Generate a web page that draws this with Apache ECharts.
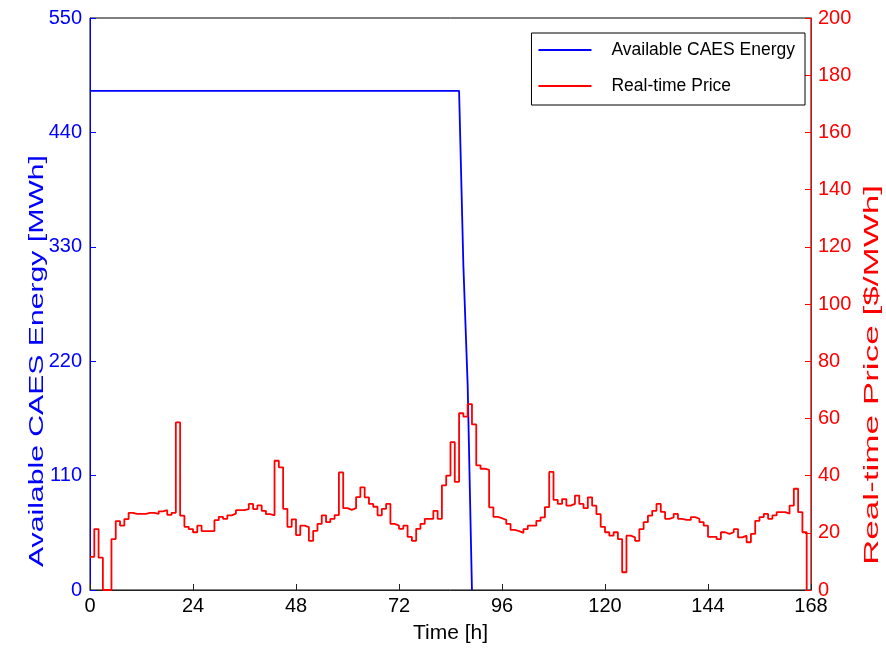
<!DOCTYPE html>
<html>
<head>
<meta charset="utf-8">
<script src="https://cdn.jsdelivr.net/npm/echarts@6/dist/echarts.min.js"></script>
<style>
html,body{margin:0;padding:0;background:#fff;}
#chart{width:886px;height:654px;}
</style>
</head>
<body>
<div id="chart"></div>
<script>
// Real-time price [$/MWh], hourly (stairs), hours 0..167
var priceValues = [
 11.6,21.3,11.3,0,0,17.8,24.1,22.5,24.8,27.0,26.6,26.6,26.6,27.0,27.0,26.6,27.5,27.9,26.3,27.0,
 58.6,26.0,22.1,21.3,20.2,22.5,20.6,20.6,20.6,24.4,25.6,24.9,26.1,26.7,27.9,27.9,28.3,30.1,28.3,29.6,
 27.7,26.5,26.1,45.2,42.9,28.4,22.1,24.7,19.2,22.5,22.0,17.2,20.7,23.1,26.1,23.7,24.9,26.2,41.1,28.6,
 28.0,28.6,32.5,35.9,32.4,30.1,29.1,26.1,28.4,30.1,23.1,22.5,21.4,22.5,18.6,17.2,21.4,23.1,24.9,24.9,
 27.7,24.9,36.6,40.0,51.7,37.8,61.8,60.6,65.0,57.9,43.6,42.4,42.0,28.9,25.6,25.1,24.5,23.1,21.0,20.6,
 20.0,21.3,22.5,22.5,24.2,25.4,29.0,41.3,31.5,30.1,31.8,29.5,30.1,33.0,30.1,28.6,32.4,29.5,26.5,22.1,
 20.2,19.0,20.2,17.8,6.2,19.0,18.4,17.2,21.3,23.7,26.0,27.7,30.1,27.3,24.9,25.4,26.6,24.9,24.5,24.5,
 25.5,24.9,23.7,22.5,18.6,18.6,17.8,20.2,19.6,20.2,21.3,18.4,19.0,16.7,19.6,24.2,25.5,26.6,24.9,26.1,
 27.2,27.2,26.7,29.5,35.4,27.2,20.2,0
];
// Available CAES energy [MWh]
var energyHours  = [0, 86, 87, 88, 89];
var energyValues = [480, 480, 312, 197, 0];

var leftTitle = 'Available CAES Energy [MWh]';
var rightTitle = 'Real-time Price [$/MWh]';
var xTitle = 'Time [h]';
var seriesNames = ['Available CAES Energy', 'Real-time Price'];

var priceData = priceValues.map(function (v, i) { return [i, v]; });
var energyData = energyHours.map(function (h, i) { return [h, energyValues[i]]; });

var FONT = '"Liberation Sans", Arial, sans-serif';
var TITLE_PX = 20;
function textWidth(t, px) {
  var c = document.createElement('canvas').getContext('2d');
  c.font = px + 'px ' + FONT;
  return c.measureText(t).width;
}
// vertical titles in the reference are elongated along their length
var leftScale = 412 / textWidth(leftTitle, TITLE_PX);
var rightScale = 380 / textWidth(rightTitle, TITLE_PX);

var chart = echarts.init(document.getElementById('chart'), null, {renderer: 'canvas'});
chart.setOption({
  animation: false,
  backgroundColor: '#fff',
  textStyle: {fontFamily: FONT},
  grid: {left: 90, right: 75, top: 18, bottom: 64, show: true, borderColor: '#000', borderWidth: 1, backgroundColor: 'transparent'},
  legend: {
    orient: 'vertical',
    right: 81, top: 33,
    backgroundColor: '#fff',
    borderColor: '#000', borderWidth: 1,
    padding: [8, 10, 10, 7],
    itemWidth: 53, itemHeight: 2, itemGap: 18,
    icon: 'rect',
    textStyle: {fontFamily: FONT, fontSize: 17.5, color: '#000', padding: [0, 0, 0, 15]},
    data: seriesNames
  },
  graphic: [{
    type: 'text', x: 37, y: 361, rotation: Math.PI / 2, scaleX: leftScale, scaleY: 1,
    style: {text: leftTitle, font: TITLE_PX + 'px ' + FONT, fill: '#0000ff', align: 'center', verticalAlign: 'middle'}
  }, {
    type: 'text', x: 872, y: 375, rotation: Math.PI / 2, scaleX: rightScale, scaleY: 1,
    style: {text: rightTitle, font: TITLE_PX + 'px ' + FONT, fill: '#ff0000', align: 'center', verticalAlign: 'middle'}
  }],
  xAxis: {
    type: 'value', min: 0, max: 168, interval: 24,
    name: xTitle, nameLocation: 'middle', nameGap: 33,
    nameTextStyle: {fontFamily: FONT, fontSize: 21, color: '#000'},
    axisLine: {lineStyle: {color: '#222', width: 1}},
    axisTick: {inside: true, length: 6, lineStyle: {color: '#222'}},
    axisLabel: {fontFamily: FONT, fontSize: 20, color: '#000', margin: 6},
    splitLine: {show: false}
  },
  yAxis: [{
    type: 'value', min: 0, max: 550, interval: 110, position: 'left',
    axisLine: {show: true, lineStyle: {color: '#0000ff', width: 1}},
    axisTick: {show: true, inside: true, length: 6, lineStyle: {color: '#0000ff'}},
    axisLabel: {fontFamily: FONT, fontSize: 20, color: '#0000ff', margin: 8},
    splitLine: {show: false}
  }, {
    type: 'value', min: 0, max: 200, interval: 20, position: 'right',
    axisLine: {show: true, lineStyle: {color: '#ff0000', width: 1}},
    axisTick: {show: true, inside: true, length: 6, lineStyle: {color: '#ff0000'}},
    axisLabel: {fontFamily: FONT, fontSize: 20, color: '#ff0000', margin: 7},
    splitLine: {show: false}
  }],
  series: [{
    name: seriesNames[0], type: 'line', yAxisIndex: 0,
    data: energyData, showSymbol: false, symbol: 'none',
    lineStyle: {color: '#0000ff', width: 1.8}, itemStyle: {color: '#0000ff'}
  }, {
    name: seriesNames[1], type: 'line', yAxisIndex: 1, step: 'end',
    data: priceData, showSymbol: false, symbol: 'none',
    lineStyle: {color: '#ff0000', width: 1.8}, itemStyle: {color: '#ff0000'}
  }]
});
</script>
</body>
</html>
